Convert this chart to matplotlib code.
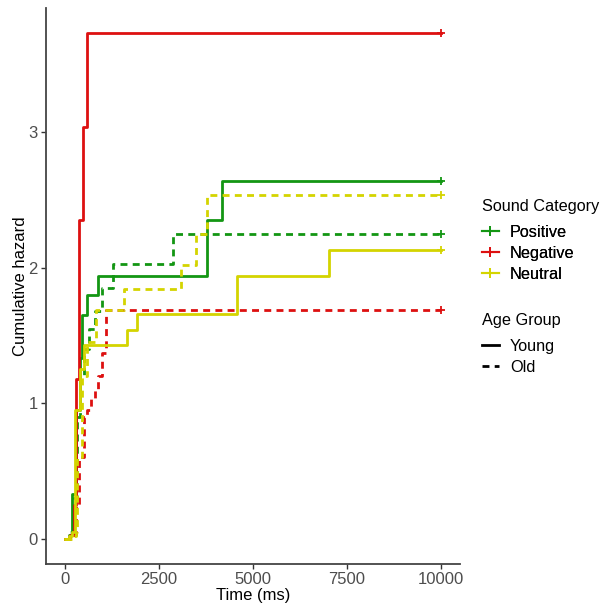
import matplotlib
matplotlib.use("Agg")
import matplotlib.pyplot as plt
from matplotlib.lines import Line2D

plt.rcParams["font.family"] = ["Liberation Sans", "DejaVu Sans"]

# ---- data ----
pos_young_t = [0, 100, 200, 300, 400, 453, 587, 880, 3787, 4187]
pos_young_h = [0, 0.03, 0.33, 0.95, 1.33, 1.65, 1.80, 1.94, 2.35, 2.64]
pos_old_t = [0, 150, 250, 330, 400, 500, 640, 800, 987, 1280, 2880]
pos_old_h = [0, 0.05, 0.30, 0.90, 1.20, 1.40, 1.55, 1.68, 1.85, 2.03, 2.25]

neg_young_t = [0, 150, 250, 290, 373, 480, 587]
neg_young_h = [0, 0.03, 0.25, 1.18, 2.35, 3.04, 3.73]
neg_old_t = [0, 100, 300, 373, 507, 587, 693, 800, 880, 987, 1093]
neg_old_h = [0, 0.03, 0.24, 0.60, 0.90, 0.95, 1.03, 1.10, 1.20, 1.37, 1.69]

neu_young_t = [0, 100, 200, 270, 400, 500, 1660, 1920, 4587, 7013]
neu_young_h = [0, 0.02, 0.05, 0.95, 1.25, 1.43, 1.54, 1.66, 1.94, 2.13]
neu_old_t = [0, 200, 300, 330, 450, 600, 827, 1573, 3085, 3493, 3787]
neu_old_h = [0, 0.02, 0.05, 0.60, 1.20, 1.45, 1.69, 1.84, 2.02, 2.25, 2.54]

end_time = 10000
categories = ["Positive", "Negative", "Neutral"]
age_groups = ["Young", "Old"]
x_ticks = [0, 2500, 5000, 7500, 10000]
y_ticks = [0, 1, 2, 3]

colors = {"Positive": "#139613", "Negative": "#dd1010", "Neutral": "#d4d400"}
styles = {"Young": "-", "Old": (0, (2.5, 1.9))}

series = [
    ("Positive", "Young", pos_young_t, pos_young_h),
    ("Positive", "Old", pos_old_t, pos_old_h),
    ("Negative", "Young", neg_young_t, neg_young_h),
    ("Negative", "Old", neg_old_t, neg_old_h),
    ("Neutral", "Young", neu_young_t, neu_young_h),
    ("Neutral", "Old", neu_old_t, neu_old_h),
]

fig = plt.figure(figsize=(6.02, 6.08), dpi=100)
W, H = 602, 608
ax = fig.add_axes([46 / W, (H - 564) / H, (460 - 46) / W, (564 - 8) / H])

lw = 2.0
for cat, age, t, h in series:
    tt = list(t) + [end_time]
    hh = list(h) + [h[-1]]
    ax.step(tt, hh, where="post", color=colors[cat], linestyle=styles[age], lw=lw)
    ax.plot([end_time], [h[-1]], marker="+", color=colors[cat], ms=6, mew=1.3, ls="none")

ax.set_xlim(-500, 10500)
ax.set_ylim(-0.187, 3.917)
ax.set_xticks(x_ticks)
ax.set_yticks(y_ticks)
ax.set_xticklabels([str(v) for v in x_ticks])
ax.set_yticklabels([str(v) for v in y_ticks])
for s in ["top", "right"]:
    ax.spines[s].set_visible(False)
for s in ["left", "bottom"]:
    ax.spines[s].set_color("#444444")
    ax.spines[s].set_linewidth(1.3)
ax.tick_params(axis="both", colors="#333333", labelcolor="#4d4d4d", labelsize=12,
               length=3.5, width=1.0, pad=2.5)
ax.set_xlabel("Time (ms)", fontsize=12, color="black", labelpad=0.5)
ax.set_ylabel("Cumulative hazard", fontsize=12, color="black", labelpad=0.5)

fs = 11.7
fig.text(482 / W, 1 - 206 / H, "Sound Category", fontsize=fs, va="center", ha="left")
h1 = [Line2D([], [], color=colors[c], lw=1.5, marker="+", ms=7, mew=1.3) for c in categories]
leg1 = fig.legend(h1, categories, loc="upper left",
                  bbox_to_anchor=(482 / W, 1 - 225 / H), frameon=False, fontsize=fs,
                  handlelength=1.03, handletextpad=0.68,
                  labelspacing=0.36, borderaxespad=0, borderpad=0)
fig.add_artist(leg1)
fig.text(482 / W, 1 - 320 / H, "Age Group", fontsize=fs, va="center", ha="left")
h2 = [Line2D([], [], color="black", lw=lw, linestyle=styles[a]) for a in age_groups]
leg2 = fig.legend(h2, age_groups, loc="upper left",
                  bbox_to_anchor=(482 / W, 1 - 339 / H), frameon=False, fontsize=fs,
                  handlelength=1.03, handletextpad=0.68,
                  labelspacing=0.36, borderaxespad=0, borderpad=0)

fig.savefig("out.png", dpi=100)
